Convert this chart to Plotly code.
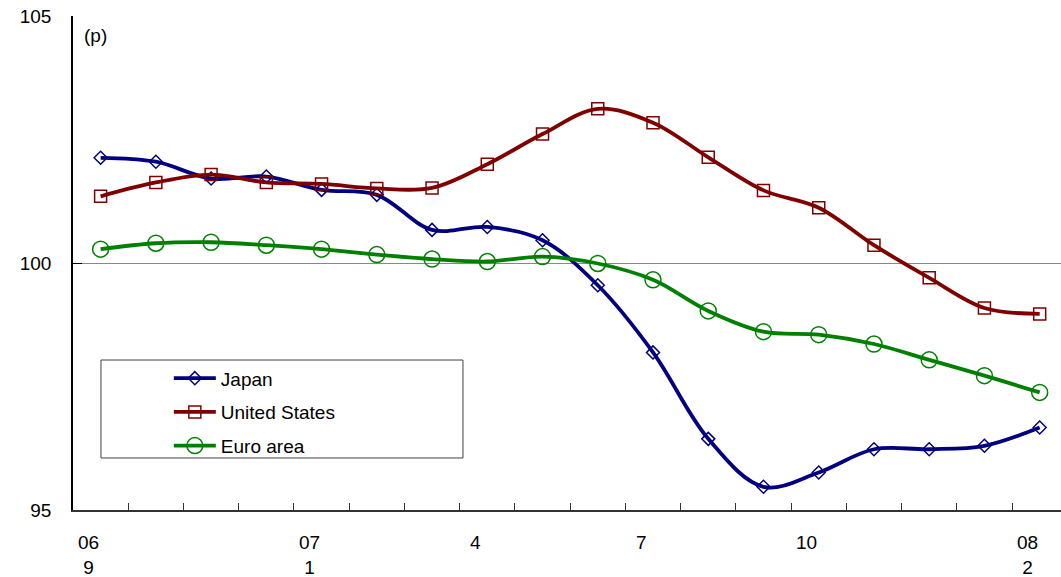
import plotly.graph_objects as go

# Monthly index values, Sep 2006 - Feb 2008
months = list(range(18))
japan = [102.13, 102.05, 101.71, 101.75, 101.48, 101.38, 100.67, 100.73, 100.46,
         99.55, 98.19, 96.44, 95.47, 95.76, 96.23, 96.23, 96.30, 96.67]
united_states = [101.35, 101.63, 101.79, 101.63, 101.60, 101.51, 101.52, 102.00, 102.61,
                 103.12, 102.84, 102.14, 101.47, 101.12, 100.36, 99.70, 99.09, 98.97]
euro_area = [100.28, 100.40, 100.42, 100.36, 100.28, 100.17, 100.08, 100.03, 100.13,
             99.99, 99.66, 99.03, 98.61, 98.55, 98.36, 98.04, 97.72, 97.38]

# Axis labels (year / month) shown under selected months
label_months = [0, 4, 7, 10, 13, 17]
label_texts = ["06<br>9", "07<br>1", "4", "7", "10", "08<br>2"]
y_ticks = [95, 100, 105]

FONT = "Liberation Sans, Arial, sans-serif"

series = [
    ("Japan", japan, "#000080", "diamond-open", 10),
    ("United States", united_states, "#800000", "square-open", 12),
    ("Euro area", euro_area, "#008000", "circle-open", 16),
]

fig = go.Figure()
for i, (name, vals, color, symbol, size) in enumerate(series):
    fig.add_trace(go.Scatter(
        x=months, y=vals, name=name, mode="lines+markers",
        line=dict(color=color, width=3.8, shape="spline", smoothing=1.0),
        marker=dict(symbol=symbol, size=size, color=color, line=dict(width=1.5, color=color)),
        legendgroup=f"g{i}",
    ))

# Month / year labels below the axis
for m, t in zip(label_months, label_texts):
    fig.add_annotation(x=m, y=0, xref="x", yref="paper", text=t, showarrow=False,
                       xanchor="center", yanchor="top", yshift=-20, xshift=-12,
                       align="center", font=dict(family=FONT, size=19, color="#000"))

fig.add_annotation(x=0.009, y=0.985, xref="paper", yref="paper", text="(p)", showarrow=False,
                   xanchor="left", yanchor="top", font=dict(family=FONT, size=19, color="#000"))

# Legend frame
fig.add_shape(type="rect", xref="paper", yref="paper", x0=0.0283, x1=0.3947, y0=0.1053, y1=0.3036,
              line=dict(color="#404040", width=1), fillcolor="white", layer="below")

fig.update_layout(
    width=1061, height=577,
    margin=dict(l=73, r=0, t=16, b=67),
    paper_bgcolor="white", plot_bgcolor="rgba(0,0,0,0)",
    font=dict(family=FONT, size=19, color="#000"),
    showlegend=True,
    legend=dict(x=0.097, y=0.305, xanchor="left", yanchor="top", bgcolor="rgba(0,0,0,0)",
                borderwidth=0, font=dict(family=FONT, size=19, color="#000"),
                traceorder="grouped", tracegroupgap=6, itemwidth=42),
    xaxis=dict(range=[-0.5, 17.386], tickmode="array",
               tickvals=[k - 0.5 for k in range(19)], ticktext=[""] * 19,
               ticks="inside", ticklen=7, tickcolor="#333", tickwidth=1,
               showline=True, linecolor="#333", linewidth=1.5, showgrid=False, zeroline=False),
    yaxis=dict(range=[95, 105], tickmode="array", tickvals=y_ticks,
               ticktext=[str(v) for v in y_ticks],
               ticks="inside", ticklen=9, tickcolor="#000", tickwidth=1,
               showline=True, linecolor="#000", linewidth=1.5,
               showgrid=True, gridcolor="#888", gridwidth=1, zeroline=False,
               ticklabelstandoff=16, tickfont=dict(family=FONT, size=19)),
)

fig.write_html("out.html")
